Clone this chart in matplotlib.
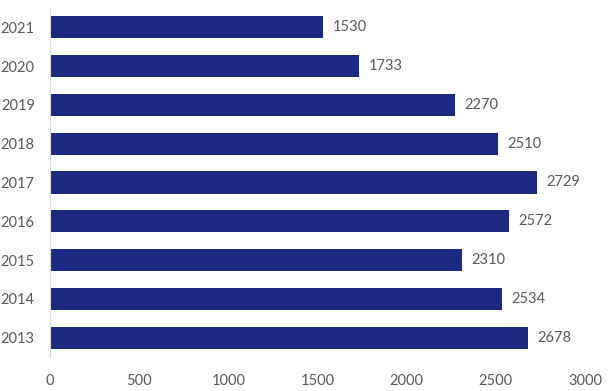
import matplotlib
matplotlib.use("Agg")
import matplotlib.pyplot as plt

years = ["2013", "2014", "2015", "2016", "2017", "2018", "2019", "2020", "2021"]
values = [2678, 2534, 2310, 2572, 2729, 2510, 2270, 1733, 1530]
xticks = [0, 500, 1000, 1500, 2000, 2500, 3000]

plt.rcParams['font.family'] = ['Lato', 'DejaVu Sans']
fig = plt.figure(figsize=(6.14, 3.91), dpi=100)
ax = fig.add_axes([50/614, 1-357/391, (585-50)/614, (357-8)/391])
bar_color = "#1B2A80"
text_color = "#595959"
ax.barh(range(len(years)), values, height=0.57, color=bar_color, zorder=2)
for i, v in enumerate(values):
    ax.text(v + 55, i, str(v), va="center", ha="left", fontsize=10.5, color=text_color)
ax.set_yticks(range(len(years)))
ax.set_yticklabels(years)
ax.set_ylim(-0.5, len(years) - 0.5)
ax.set_xlim(0, 3000)
ax.set_xticks(xticks)
ax.set_xticklabels([str(t) for t in xticks])
for s in ["top", "right", "bottom"]:
    ax.spines[s].set_visible(False)
ax.spines["left"].set_color("#D9D9D9")
ax.tick_params(axis="both", length=0, labelsize=10.5, colors=text_color)
ax.tick_params(axis="y", pad=11)
ax.tick_params(axis="x", pad=12)
fig.savefig("out.png", dpi=100)
